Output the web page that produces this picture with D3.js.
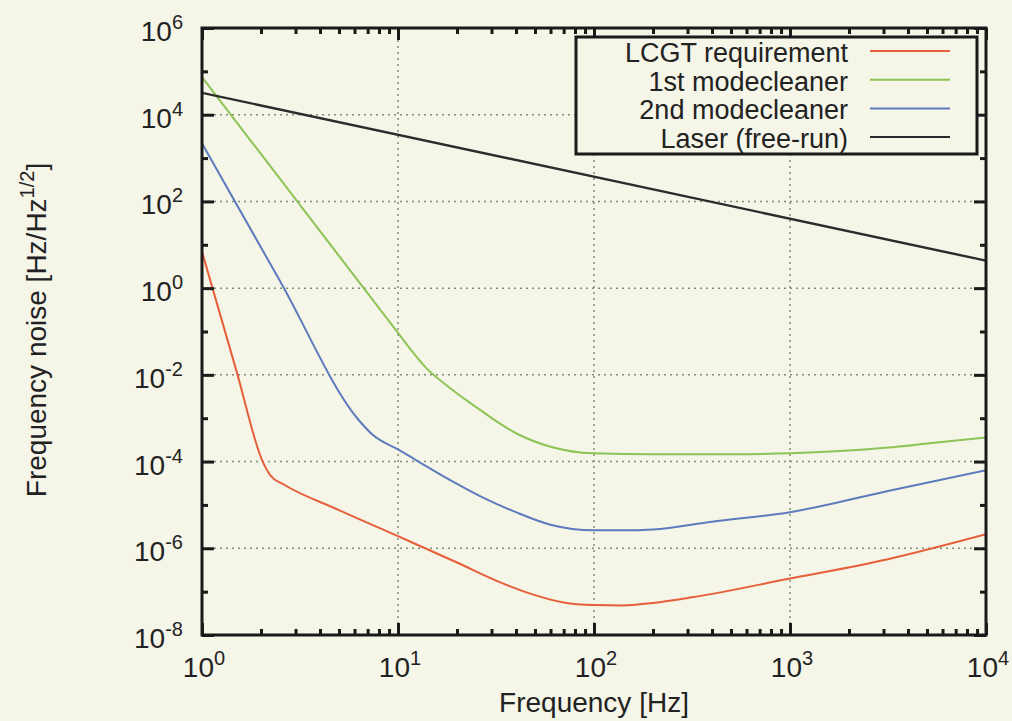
<!DOCTYPE html>
<html>
<head>
<meta charset="utf-8">
<script src="https://cdn.jsdelivr.net/npm/d3@7"></script>
<style>
  body { margin: 0; background: #f5f5e8; }
  svg { display: block; }
  text { font-family: "Liberation Sans", Arial, sans-serif; fill: #222; }
</style>
</head>
<body>
<div id="chart"></div>
<script>
// data: [frequency Hz, noise Hz/rtHz]
const lcgtReq = [
  [1, 6.9], [1.5, 0.0122], [2.04, 1e-4], [2.25, 4.6e-5], [2.6, 3e-5],
  [5, 7.6e-6], [10, 1.9e-6], [20, 4.7e-7], [33, 1.66e-7], [50, 8.3e-8],
  [70, 5.6e-8], [100, 4.9e-8], [140, 4.8e-8], [200, 5.5e-8], [316, 7.4e-8],
  [1000, 2.0e-7], [3162, 5.6e-7], [10000, 2.1e-6]
];
const mc1 = [
  [1, 7.4e4], [3.16, 83], [10, 0.093], [12, 0.0318], [14, 0.0141], [18, 5.4e-3],
  [26, 1.6e-3], [40, 4.5e-4], [60, 2.2e-4], [100, 1.55e-4], [200, 1.48e-4],
  [500, 1.48e-4], [1000, 1.55e-4], [3162, 2.1e-4], [5000, 2.6e-4], [10000, 3.6e-4]
];
const mc2 = [
  [1, 2190], [2.5, 1.46], [6.3, 9.1e-4], [7.4, 4.2e-4], [10, 1.9e-4],
  [18, 4e-5], [27, 1.5e-5], [40, 6.8e-6], [60, 3.5e-6], [100, 2.6e-6],
  [160, 2.6e-6], [200, 2.7e-6], [400, 4.1e-6], [1000, 6.8e-6],
  [3162, 2.1e-5], [10000, 6.3e-5]
];
const laser = [[1, 3.2e4], [10000, 4.3]];

const seriesNames = ["LCGT requirement", "1st modecleaner", "2nd modecleaner", "Laser (free-run)"];
const seriesColors = ["#e65f3a", "#8cc455", "#5d7cbd", "#2b2b2b"];
const seriesData = [lcgtReq, mc1, mc2, laser];

const xMajor = [1, 10, 100, 1000, 10000];
const yMajor = [1e-8, 1e-6, 1e-4, 1e-2, 1, 1e2, 1e4, 1e6];
const yMinor = [1e-7, 1e-5, 1e-3, 1e-1, 10, 1e3, 1e5];

const width = 1012, height = 721;
const margin = { top: 28, right: 26, bottom: 86, left: 202 };
const pw = width - margin.left - margin.right;
const ph = height - margin.top - margin.bottom;

const x = d3.scaleLog().domain([1, 1e4]).range([0, pw]);
const y = d3.scaleLog().domain([1e-8, 1e6]).range([ph, 0]);

let xMinor = [];
xMajor.slice(0, -1).forEach((d) => {
  for (let k = 2; k < 10; k++) xMinor.push(d * k);
});

const svg = d3.select("#chart").append("svg")
  .attr("width", width).attr("height", height);

const g = svg.append("g").attr("transform", `translate(${margin.left},${margin.top})`);

// grid
const grid = g.append("g").attr("stroke", "#7f8f74").attr("stroke-width", 1.5)
  .attr("stroke-dasharray", "2,4");
grid.selectAll(".gx").data(xMajor.slice(1, -1)).enter().append("line")
  .attr("x1", (d) => x(d)).attr("x2", (d) => x(d)).attr("y1", 0).attr("y2", ph);
grid.selectAll(".gy").data(yMajor.slice(1, -1)).enter().append("line")
  .attr("y1", (d) => y(d)).attr("y2", (d) => y(d)).attr("x1", 0).attr("x2", pw);

// curves
g.append("clipPath").attr("id", "clip").append("rect").attr("width", pw).attr("height", ph);
const line = d3.line().x((d) => x(d[0])).y((d) => y(d[1])).curve(d3.curveMonotoneX);
g.append("g").attr("clip-path", "url(#clip)")
  .selectAll("path").data(seriesData).enter().append("path")
  .attr("d", line)
  .attr("fill", "none")
  .attr("stroke", (d, i) => seriesColors[i])
  .attr("stroke-width", (d, i) => (i == 3 ? 2.4 : 2));

// ticks (inward, mirrored on all sides)
function ticks(axis, vals, size, transform) {
  const a = g.append("g").attr("transform", transform)
    .call(axis.tickValues(vals).tickSize(-size).tickFormat(""));
  a.select(".domain").remove();
  a.selectAll("line").attr("stroke", "#1a1a1a").attr("stroke-width", 3);
}
ticks(d3.axisBottom(x), xMajor, 12, `translate(0,${ph})`);
ticks(d3.axisBottom(x), xMinor, 6, `translate(0,${ph})`);
ticks(d3.axisTop(x), xMajor, 12, "translate(0,0)");
ticks(d3.axisTop(x), xMinor, 6, "translate(0,0)");
ticks(d3.axisLeft(y), yMajor, 12, "translate(0,0)");
ticks(d3.axisLeft(y), yMinor, 6, "translate(0,0)");
ticks(d3.axisRight(y), yMajor, 12, `translate(${pw},0)`);
ticks(d3.axisRight(y), yMinor, 6, `translate(${pw},0)`);

g.append("rect").attr("width", pw).attr("height", ph)
  .attr("fill", "none").attr("stroke", "#1a1a1a").attr("stroke-width", 3);

// tick labels with superscript exponents
function powLabel(sel, v) {
  sel.append("tspan").text("10");
  sel.append("tspan").attr("dy", -12).attr("font-size", 20).text(Math.round(Math.log10(v)));
}
g.selectAll(".xl").data(xMajor).enter().append("text")
  .attr("x", (d) => x(d) + 2).attr("y", ph + 42)
  .attr("text-anchor", "middle").attr("font-size", 28)
  .each(function (d) { powLabel(d3.select(this), d); });
g.selectAll(".yl").data(yMajor).enter().append("text")
  .attr("x", -19).attr("y", (d) => y(d) + 13)
  .attr("text-anchor", "end").attr("font-size", 28)
  .each(function (d) { powLabel(d3.select(this), d); });

// axis titles
svg.append("text")
  .attr("x", margin.left + pw / 2).attr("y", 712)
  .attr("text-anchor", "middle").attr("font-size", 28)
  .text("Frequency [Hz]");
const yt = svg.append("text")
  .attr("transform", "translate(46,330) rotate(-90)")
  .attr("text-anchor", "middle").attr("font-size", 28);
yt.append("tspan").text("Frequency noise [Hz/Hz");
yt.append("tspan").attr("dy", -12).attr("font-size", 20).text("1/2");
yt.append("tspan").attr("dy", 12).text("]");

// legend
const lg = g.append("g").attr("transform", `translate(${pw - 410},9)`);
lg.append("rect").attr("width", 401).attr("height", 117)
  .attr("fill", "#f5f5e8").attr("stroke", "#1a1a1a").attr("stroke-width", 3);
const rows = lg.selectAll(".row").data(seriesNames).enter().append("g")
  .attr("transform", (d, i) => `translate(0,${14 + i * 28.7})`);
rows.append("text").attr("x", 272).attr("y", 11)
  .attr("text-anchor", "end").attr("font-size", 27).text((d) => d);
rows.append("line").attr("x1", 294).attr("x2", 374)
  .attr("stroke", (d, i) => seriesColors[i]).attr("stroke-width", 2);
</script>
</body>
</html>
